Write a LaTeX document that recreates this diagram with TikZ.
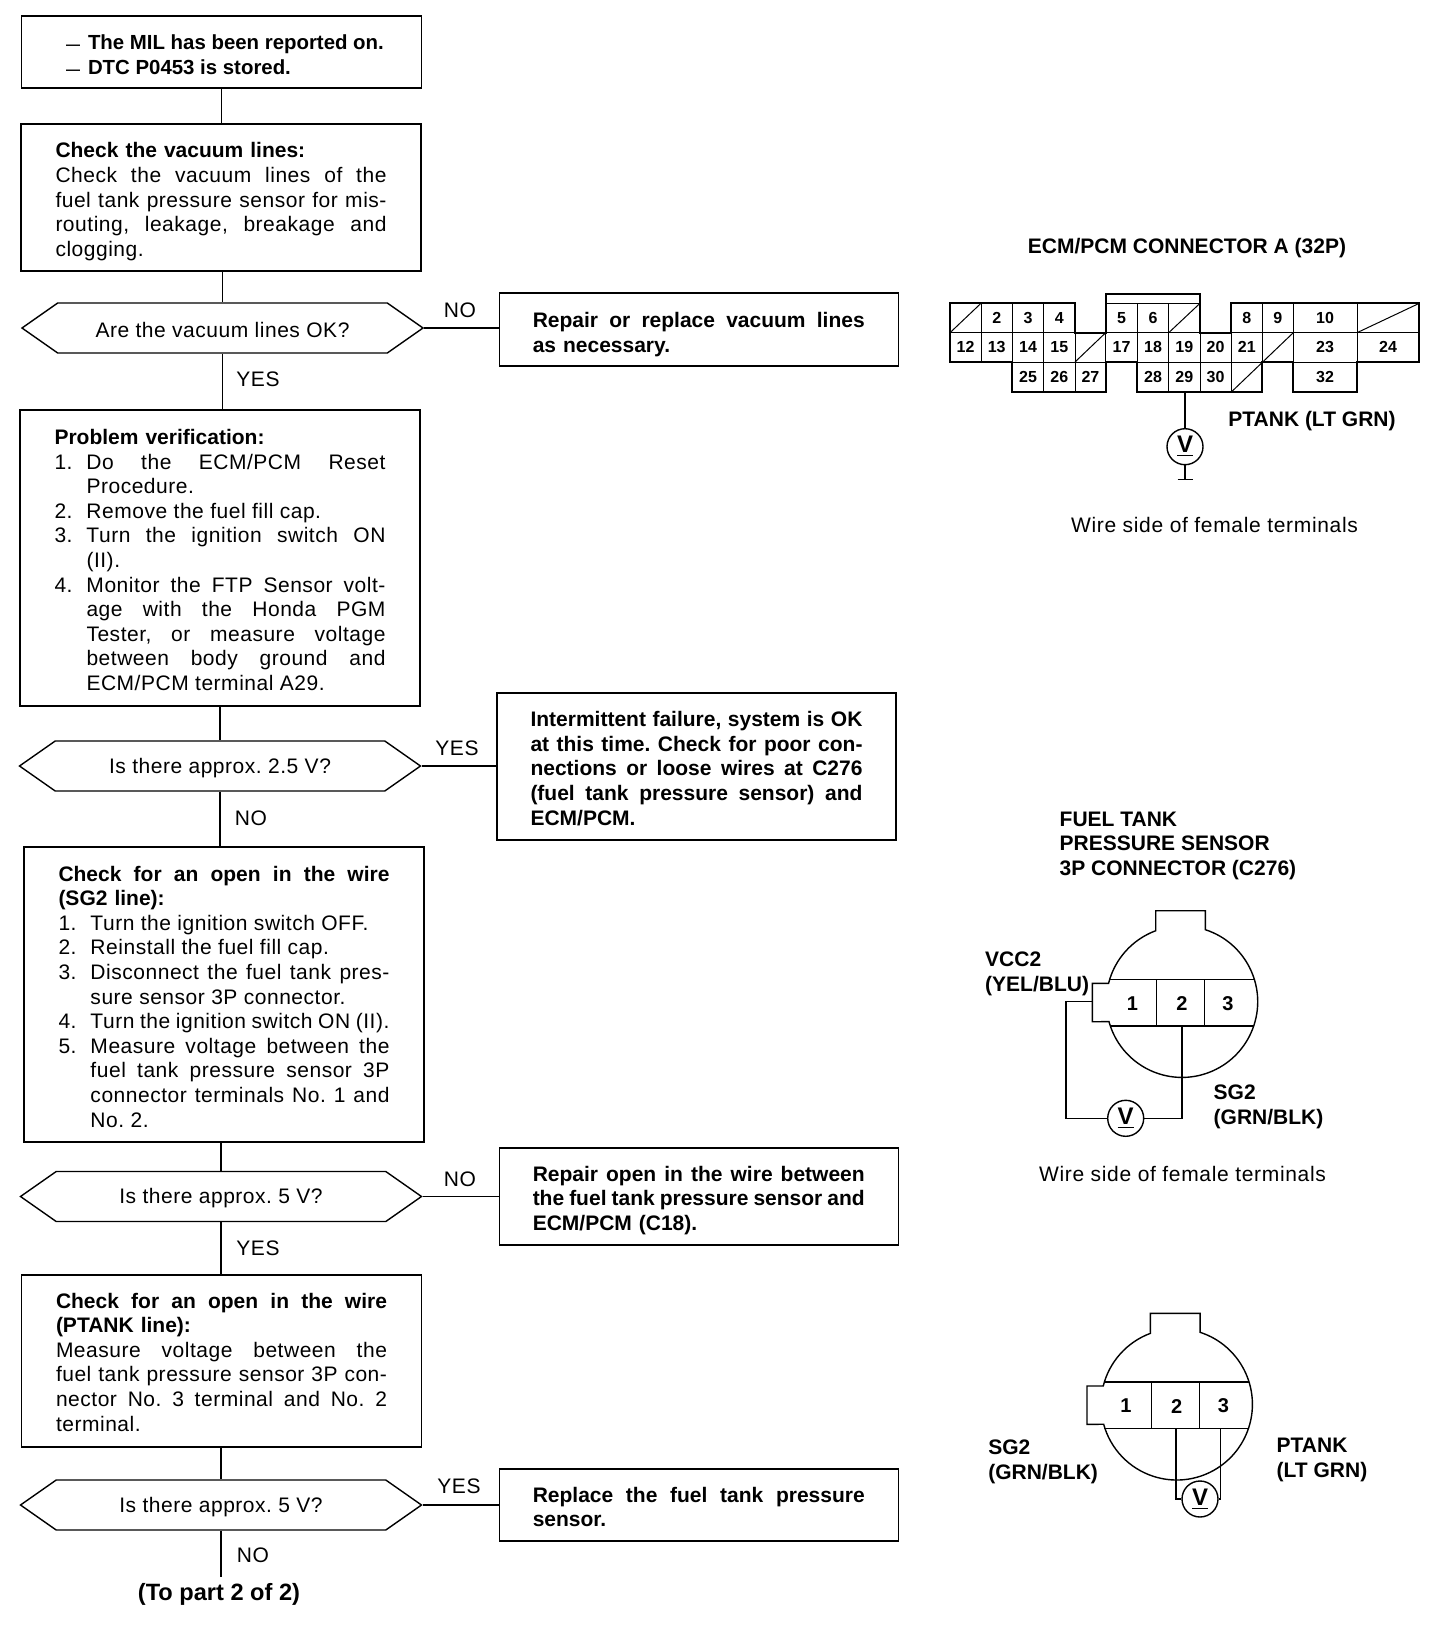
\documentclass[tikz,border=0pt]{standalone}
\usepackage{fontspec}
\setmainfont{Liberation Sans}[LetterSpace=2.5,BoldFeatures={LetterSpace=0}]
\usepackage{tikz}
\usetikzlibrary{shapes.symbols}
\newcommand{\fullline}[1]{\makebox[\hsize][s]{\spaceskip=0pt\xspaceskip=0pt #1}}
\newcommand{\numline}[2]{\makebox[16pt][l]{#1}\mbox{\spaceskip=0pt\xspaceskip=0pt #2}}
\newcommand{\numjust}[2]{\makebox[16pt][l]{#1}\makebox[\dimexpr\hsize-16pt\relax][s]{\spaceskip=0pt\xspaceskip=0pt #2}}
\newcommand{\dashmark}{\hspace{5pt}{\fontsize{7}{8}\selectfont —}}
\begin{document}
\frenchspacing
\begin{tikzpicture}[x=0.5pt,y=-0.5pt,font=\fontsize{10.5}{12.3}\selectfont,
  line width=0.7pt,
  flowbox/.style={draw,inner sep=0pt,minimum width=200pt,text width=165.5pt,align=left},
  fixbox/.style={draw,inner sep=0pt,minimum width=199.5pt,text width=166pt,align=left,font=\fontsize{10.5}{12.3}\selectfont\bfseries},
  decision/.style={draw,shape=signal,signal to=east and west,signal pointer angle=70,inner sep=0pt,text height=9.6pt,minimum width=200.5pt,minimum height=25pt},
  tag/.style={inner sep=0pt},
  label/.style={inner sep=0pt,align=left,font=\fontsize{10.5}{12.3}\selectfont\bfseries},
  pin/.style={inner sep=0pt,font=\fontsize{8}{9}\selectfont\bfseries},
  bigpin/.style={inner sep=0pt,font=\fontsize{10}{12}\selectfont\bfseries},
  meter/.style={draw,circle,inner sep=0pt,minimum size=18pt,font=\fontsize{12}{13}\selectfont\bfseries}]
\useasboundingbox (0,0) rectangle (1456,1628);
% left column
\node[flowbox,minimum height=36pt,text height=9.8pt,font=\fontsize{10.2}{12.5}\selectfont\bfseries] (mil) at (221.5,52) {\numline{\dashmark}{The MIL has been reported on.}\\\numline{\dashmark}{DTC P0453 is stored.}};
\node[flowbox,minimum height=73.5pt,text height=11.8pt] (vac) at (221,197.5) {\textbf{Check the vacuum lines:}\\\fullline{Check the vacuum lines of the}\\\fullline{fuel tank pressure sensor for mis-}\\\fullline{routing, leakage, breakage and}\\clogging.};
\node[decision] (askvac) at (222.5,328) {Are the vacuum lines OK?};
\node[flowbox,minimum height=148pt,text height=9.6pt] (verify) at (220,558) {\textbf{Problem verification:}\\\numjust{1.}{Do the ECM/PCM Reset}\\\numline{}{Procedure.}\\\numline{2.}{Remove the fuel fill cap.}\\\numjust{3.}{Turn the ignition switch ON}\\\numline{}{(II).}\\\numjust{4.}{Monitor the FTP Sensor volt-}\\\numjust{}{age with the Honda PGM}\\\numjust{}{Tester, or measure voltage}\\\numjust{}{between body ground and}\\\numline{}{ECM/PCM terminal A29.}};
\node[decision] (askftp) at (220,766) {Is there approx. 2.5 V?};
\node[flowbox,minimum height=147.5pt,text height=9.6pt] (opensg) at (224,994.5) {\fullline{\textbf{Check for an open in the wire}}\\\textbf{(SG2 line):}\\\numline{1.}{Turn the ignition switch OFF.}\\\numline{2.}{Reinstall the fuel fill cap.}\\\numjust{3.}{Disconnect the fuel tank pres-}\\\numline{}{sure sensor 3P connector.}\\\numjust{4.}{Turn the ignition switch ON (II).}\\\numjust{5.}{Measure voltage between the}\\\numjust{}{fuel tank pressure sensor 3P}\\\numjust{}{connector terminals No. 1 and}\\\numline{}{No. 2.}};
\node[decision] (askvcc) at (221,1196.5) {Is there approx. 5 V?};
\node[flowbox,minimum height=86pt,text height=8.6pt] (openpt) at (221.5,1361) {\fullline{\textbf{Check for an open in the wire}}\\\textbf{(PTANK line):}\\\fullline{Measure voltage between the}\\\fullline{fuel tank pressure sensor 3P con-}\\\fullline{nector No. 3 terminal and No. 2}\\terminal.};
\node[decision] (askpt) at (221,1505) {Is there approx. 5 V?};
\node[tag,inner ysep=3pt,font=\fontsize{11.8}{13}\selectfont\bfseries,anchor=north] (part) at (219,1577) {(To part 2 of 2)};
% right column
\node[fixbox,minimum height=36.5pt,text height=12.8pt] (fixvac) at (698.75,329.5) {\fullline{Repair or replace vacuum lines}\\as necessary.};
\node[fixbox,minimum height=73.5pt,text height=9.6pt] (fixint) at (696.5,766.5) {\fullline{Intermittent failure, system is OK}\\\fullline{at this time. Check for poor con-}\\\fullline{nections or loose wires at C276}\\\fullline{(fuel tank pressure sensor) and}\\ECM/PCM.};
\node[fixbox,minimum height=48.5pt,text height=11.6pt] (fixsg) at (698.75,1196.5) {\fullline{Repair open in the wire between}\\\fullline{the fuel tank pressure sensor and}\\ECM/PCM (C18).};
\node[fixbox,minimum height=36pt,text height=9.6pt] (fixpt) at (698.75,1505) {\fullline{Replace the fuel tank pressure}\\sensor.};
% trunk
\draw (mil.south) -- (mil.south |- vac.north);
\draw (askvac.north |- vac.south) -- (askvac.north);
\draw (askvac.south) -- (askvac.south |- verify.north);
\draw (askftp.north |- verify.south) -- (askftp.north);
\draw (askftp.south) -- (askftp.south |- opensg.north);
\draw (askvcc.north |- opensg.south) -- (askvcc.north);
\draw (askvcc.south) -- (askvcc.south |- openpt.north);
\draw (askpt.north |- openpt.south) -- (askpt.north);
\draw (askpt.south) -- (askpt.south |- part.north);
\draw (askvac.east) -- (askvac.east -| fixvac.west);
\draw (askftp.east) -- (askftp.east -| fixint.west);
\draw (askvcc.east) -- (askvcc.east -| fixsg.west);
\draw (askpt.east) -- (askpt.east -| fixpt.west);
\node[tag] (novac) at (460,310) {NO};
\node[tag] (yesvac) at (258,379) {YES};
\node[tag] (yesftp) at (457,748) {YES};
\node[tag] (noftp) at (251,818) {NO};
\node[tag] (novcc) at (460,1179) {NO};
\node[tag] (yesvcc) at (258,1248) {YES};
\node[tag] (yespt) at (459,1486) {YES};
\node[tag] (nopt) at (253,1555) {NO};
% connector A
\node[label] (title) at (1187,248) {ECM/PCM CONNECTOR A (32P)};
\draw[thick,line width=1pt] (950,303.3) -- (1075,303.3) -- (1075,332.7) -- (1105.7,332.7) -- (1105.7,294) -- (1200,294) -- (1200,332.7) -- (1231.3,332.7) -- (1231.3,303.3) -- (1419.3,303.3) -- (1419.3,362) -- (1357,362) -- (1357,392) -- (1293.3,392) -- (1293.3,362) -- (1262.3,362) -- (1262.3,392) -- (1137.3,392) -- (1137.3,362) -- (1105.7,362) -- (1105.7,392) -- (1012.3,392) -- (1012.3,362) -- (950,362) -- cycle;
\draw[line width=0.4pt] (1105.7,303.3) -- (1200,303.3) (950,332.7) -- (1419.3,332.7) (1012.3,362) -- (1105.7,362) (1137.3,362) -- (1293.3,362) (1293.3,362) -- (1357,362);
\draw[line width=0.4pt] (981,303.3) -- (981,362) (1012.3,303.3) -- (1012.3,362) (1043.7,303.3) -- (1043.7,392) (1075,332.7) -- (1075,392) (1105.7,332.7) -- (1105.7,362) (1137.3,303.3) -- (1137.3,362) (1168.7,303.3) -- (1168.7,392) (1200,332.7) -- (1200,392) (1231.3,332.7) -- (1231.3,392) (1262.3,303.3) -- (1262.3,362) (1293.3,303.3) -- (1293.3,362) (1357,303.3) -- (1357,362);
\draw[line width=0.5pt] (950,332.7) -- (981,303.3) (1075,362) -- (1105.7,332.7) (1168.7,332.7) -- (1200,303.3) (1231.3,392) -- (1293.3,332.7) (1357,332.7) -- (1419.3,303.3);
\node[pin] (p2) at (996.7,318.3) {2};
\node[pin] (p3) at (1028,318.3) {3};
\node[pin] (p4) at (1059.3,318.3) {4};
\node[pin] (p5) at (1121.5,318.3) {5};
\node[pin] (p6) at (1153,318.3) {6};
\node[pin] (p8) at (1246.8,318.3) {8};
\node[pin] (p9) at (1277.8,318.3) {9};
\node[pin] (p10) at (1325,318.3) {10};
\node[pin] (p12) at (965.5,347.3) {12};
\node[pin] (p13) at (996.7,347.3) {13};
\node[pin] (p14) at (1028,347.3) {14};
\node[pin] (p15) at (1059.3,347.3) {15};
\node[pin] (p17) at (1121.5,347.3) {17};
\node[pin] (p18) at (1153,347.3) {18};
\node[pin] (p19) at (1184.3,347.3) {19};
\node[pin] (p20) at (1215.6,347.3) {20};
\node[pin] (p21) at (1246.8,347.3) {21};
\node[pin] (p23) at (1325,347.3) {23};
\node[pin] (p24) at (1388,347.3) {24};
\node[pin] (p25) at (1028,377) {25};
\node[pin] (p26) at (1059.3,377) {26};
\node[pin] (p27) at (1090.4,377) {27};
\node[pin] (p28) at (1153,377) {28};
\node[pin] (p29) at (1184.3,377) {29};
\node[pin] (p30) at (1215.6,377) {30};
\node[pin] (p32) at (1325,377) {32};
\coordinate (ptankend) at (1185,392);
\node[meter] (meterecm) at (1185,446.7) {\underline{V}};
\draw (ptankend) -- (meterecm.north);
\coordinate (earth) at (1185,479.3);
\draw (meterecm.south) -- (earth);
\draw ([xshift=-3.75pt]earth) -- ([xshift=3.75pt]earth);
\node[label] (ptanka) at (1312,421) {PTANK (LT GRN)};
\node[tag] (wirea) at (1214.5,525) {\addfontfeature{LetterSpace=3.2}Wire side of female terminals};
% sensor connector
\def\sensorshell{
\draw (-72:75.7) arc[start angle=-72,end angle=164.7,radius=75.7] -- (-89.7,20) -- (-89.7,-18.3) -- (194:75.7) arc[start angle=194,end angle=249.7,radius=75.7] -- (-26.3,-91) -- (23.4,-91) -- cycle;
\draw (-72.3,-22.4) -- (72.3,-22.4) (-72.3,24.3) -- (71.7,24.3);
\draw[line width=0.5pt] (-25.3,-22.4) -- (-25.3,24.3) (22.3,-22.4) -- (22.3,24.3);
}
\node[label,anchor=north west] (titleb) at (1059,811) {FUEL TANK\\PRESSURE SENSOR\\3P CONNECTOR (C276)};
\begin{scope}[shift={(1182,1001.7)}]
\sensorshell
\end{scope}
\node[bigpin] (a1) at (1132.3,1004) {1};
\node[bigpin] (a2) at (1182,1004) {2};
\node[bigpin] (a3) at (1228,1004) {3};
\coordinate (vccend) at (1092.3,1001.7);
\coordinate (sgend) at (1182,1026);
\node[meter] (meterb) at (1125.7,1118.3) {\underline{V}};
\draw (vccend) -- (1066,1001.7) |- (meterb.west);
\draw (sgend) |- (meterb.east);
\node[label,anchor=north west] (vcc) at (984.5,951.5) {VCC2\\(YEL/BLU)};
\node[label,anchor=north west] (sgb) at (1213,1084.5) {SG2\\(GRN/BLK)};
\node[tag] (wireb) at (1182.5,1173.5) {\addfontfeature{LetterSpace=3.2}Wire side of female terminals};
\begin{scope}[shift={(1176.7,1404.3)}]
\sensorshell
\end{scope}
\node[bigpin] (b1) at (1126,1406) {1};
\node[bigpin] (b2) at (1176.7,1406) {2};
\node[bigpin] (b3) at (1223.4,1406) {3};
\coordinate (sgc) at (1176,1428.6);
\coordinate (ptc) at (1220.7,1428.6);
\node[meter] (meterc) at (1200,1499) {\underline{V}};
\draw (sgc) |- (meterc.west);
\draw (ptc) |- (meterc.east);
\node[label,anchor=north west] (sgd) at (987.6,1439.6) {SG2\\(GRN/BLK)};
\node[label,anchor=north west] (ptd) at (1276,1437.5) {PTANK\\(LT GRN)};
\end{tikzpicture}
\end{document}
